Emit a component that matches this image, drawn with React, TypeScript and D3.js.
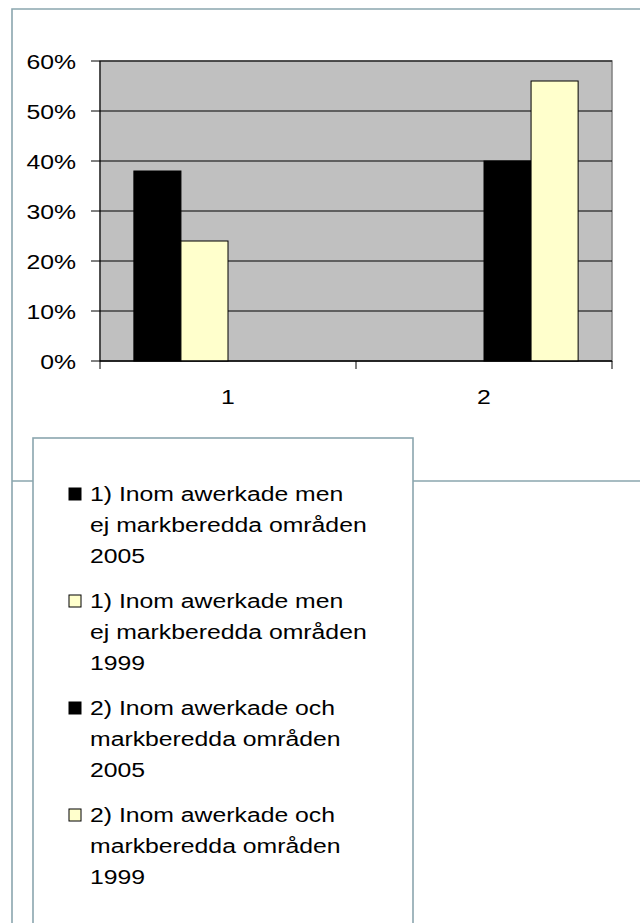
import React from "react";
import * as d3 from "d3";

const categories = ["1", "2"];
const seriesNames = [
  ["1) Inom awerkade men", "ej markberedda områden", "2005"],
  ["1) Inom awerkade men", "ej markberedda områden", "1999"],
  ["2) Inom awerkade och", "markberedda områden", "2005"],
  ["2) Inom awerkade och", "markberedda områden", "1999"],
];
const seriesValues: (number | null)[][] = [
  [0.38, null],
  [0.24, null],
  [null, 0.40],
  [null, 0.56],
];
const seriesColors = ["#000000", "#FFFFCC", "#000000", "#FFFFCC"];
const yTicks = [0, 0.1, 0.2, 0.3, 0.4, 0.5, 0.6];

const W = 640;
const H = 923;
const plot = { left: 100, right: 612, top: 61, bottom: 361 };
const frameColor = "#8BA6AE";
const font = "'Liberation Sans', Arial, sans-serif";
const FS = 21;
const SX = 1.18;

function T({ x, y, anchor, children }: { x: number; y: number; anchor?: string; children: React.ReactNode }) {
  return (
    <text transform={`translate(${x},${y}) scale(${SX},1)`} textAnchor={anchor || "start"} fontSize={FS} fill="#000">
      {children}
    </text>
  );
}

export default function App() {
  const x = d3.scaleBand<string>().domain(categories).range([plot.left, plot.right]).paddingInner(0).paddingOuter(0);
  const inner = d3
    .scaleBand<number>()
    .domain(d3.range(seriesValues.length))
    .range([0, x.bandwidth()])
    .paddingInner(0)
    .paddingOuter(0.72);
  const y = d3.scaleLinear().domain([0, 0.6]).range([plot.bottom, plot.top]);
  const fmt = d3.format(".0%");
  const catTicks = [plot.left, ...categories.map((c) => (x(c) as number) + x.bandwidth())];

  const legendX = 33;
  const legendY = 438;
  const itemGap = 107;
  const lineGap = 31;
  const firstBase = 501;

  return (
    <svg width={W} height={H} style={{ position: "absolute", left: 0, top: 0, background: "#fff" }} fontFamily={font}>
      {/* outer chart frame */}
      <path d={`M12,${H + 5} L12,9 L${W + 5},9 M12,481 L${W + 5},481`} fill="none" stroke={frameColor} strokeWidth={1.6} />
      {/* plot area */}
      <rect x={plot.left} y={plot.top} width={plot.right - plot.left} height={plot.bottom - plot.top} fill="#C0C0C0" stroke="#808080" strokeWidth={1.5} />
      {yTicks.map((t) => (
        <g key={t}>
          <line x1={91} x2={plot.right} y1={y(t)} y2={y(t)} stroke="#000" strokeWidth={1} />
          <T x={76} y={y(t) + 7.5} anchor="end">
            {fmt(t)}
          </T>
        </g>
      ))}
      {/* bars */}
      {seriesValues.map((vals, si) =>
        vals.map((v, ci) =>
          v == null ? null : (
            <rect
              key={`${si}-${ci}`}
              x={(x(categories[ci]) as number) + (inner(si) as number)}
              y={y(v)}
              width={inner.bandwidth()}
              height={y(0) - y(v)}
              fill={seriesColors[si]}
              stroke="#000"
              strokeWidth={1}
            />
          )
        )
      )}
      {/* axes */}
      <line x1={plot.left} x2={plot.left} y1={plot.top} y2={plot.bottom} stroke="#000" strokeWidth={1} />
      <line x1={plot.left} x2={plot.right} y1={plot.bottom} y2={plot.bottom} stroke="#000" strokeWidth={1} />
      {catTicks.map((tx, i) => (
        <line key={i} x1={tx} x2={tx} y1={plot.bottom} y2={plot.bottom + 8} stroke="#000" strokeWidth={1} />
      ))}
      {categories.map((c) => (
        <T key={c} x={(x(c) as number) + x.bandwidth() / 2} y={404} anchor="middle">
          {c}
        </T>
      ))}
      {/* legend */}
      <rect x={legendX} y={legendY} width={413 - legendX} height={H + 10 - legendY} fill="#fff" stroke={frameColor} strokeWidth={1.6} />
      {seriesNames.map((lines, i) => {
        const base = firstBase + i * itemGap;
        return (
          <g key={i}>
            <rect x={69} y={base - 13} width={12} height={12} fill={seriesColors[i]} stroke="#000" strokeWidth={1} />
            {lines.map((ln, j) => (
              <T key={j} x={90} y={base + j * lineGap}>
                {ln}
              </T>
            ))}
          </g>
        );
      })}
    </svg>
  );
}
